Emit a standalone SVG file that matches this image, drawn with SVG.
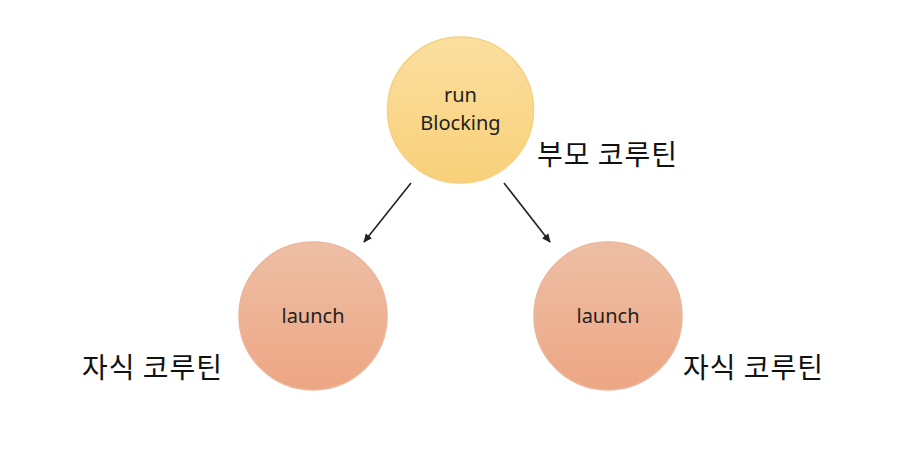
<svg xmlns="http://www.w3.org/2000/svg" width="910" height="460" viewBox="0 0 910 460">
<defs>
<linearGradient id="gTop" x1="0" y1="0" x2="0" y2="1">
<stop offset="0" stop-color="#FBDF9F"/>
<stop offset="1" stop-color="#F8D07A"/>
</linearGradient>
<linearGradient id="gChild" x1="0" y1="0" x2="0" y2="1">
<stop offset="0" stop-color="#EEBFA5"/>
<stop offset="1" stop-color="#EDA684"/>
</linearGradient>
<marker id="arr" markerWidth="10" markerHeight="10" refX="8" refY="5" orient="auto" markerUnits="userSpaceOnUse">
<path d="M0,1 L9,5 L0,9 Z" fill="#222"/>
</marker>
</defs>
<style>
.node-top{fill:url(#gTop);stroke:#F5D080;stroke-width:1.5}
.node-child{fill:url(#gChild);stroke:#EAB59A;stroke-width:1.5}
.in{font-family:"Noto Sans",sans-serif;font-size:20px;fill:#222;text-anchor:middle}
.lbl{font-family:"Noto Sans CJK KR",sans-serif;font-size:28px;letter-spacing:1px;fill:#111}
.conn{stroke:#222;stroke-width:1.6;fill:none;marker-end:url(#arr)}
</style>
<rect width="910" height="460" fill="#fff"/>
<g id="connectors">
<line class="conn" x1="411" y1="183" x2="364" y2="242"/>
<line class="conn" x1="504" y1="183" x2="550" y2="242"/>
</g>
<g id="runBlocking">
<circle class="node-top" cx="460.5" cy="110" r="73"/>
<text class="in" x="460.5" y="102">run</text>
<text class="in" x="460.5" y="130">Blocking</text>
</g>
<g id="parentLabel">
<text class="lbl" x="537" y="165">부모 코루틴</text>
</g>
<g id="launchLeft">
<circle class="node-child" cx="313" cy="316" r="74"/>
<text class="in" x="313" y="323">launch</text>
</g>
<g id="launchRight">
<circle class="node-child" cx="608" cy="316" r="74"/>
<text class="in" x="608" y="323">launch</text>
</g>
<g id="childLabelLeft">
<text class="lbl" x="82" y="378">자식 코루틴</text>
</g>
<g id="childLabelRight">
<text class="lbl" x="683" y="378">자식 코루틴</text>
</g>
</svg>
